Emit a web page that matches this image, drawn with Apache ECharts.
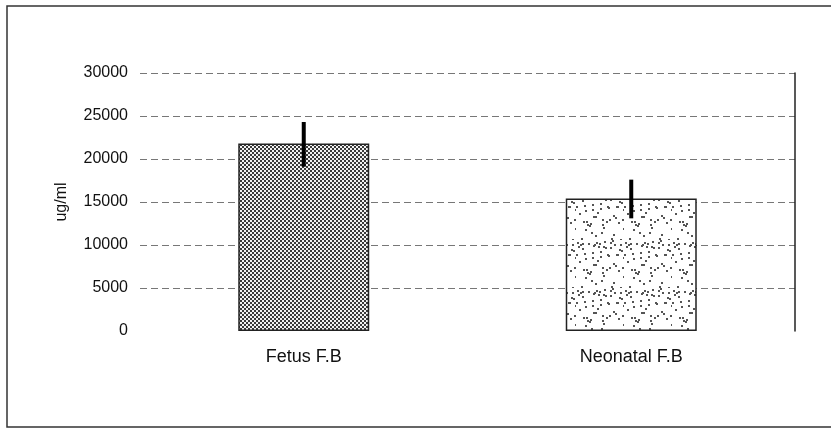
<!DOCTYPE html>
<html><head><meta charset="utf-8">
<script src="https://cdn.jsdelivr.net/npm/echarts@6/dist/echarts.min.js"></script>
<style>html,body{margin:0;padding:0;background:#fff}#c{width:831px;height:429px}</style>
</head><body><div id="c"></div>
<script>
const categories = ['Fetus F.B', 'Neonatal F.B'];
const means = [21800, 15400];
const errLow = [19100, 13100];
const errHigh = [24300, 17600];
const yTicks = [0, 5000, 10000, 15000, 20000, 25000, 30000];

function checker() {
  const c = document.createElement('canvas'); c.width = 4; c.height = 4;
  const g = c.getContext('2d');
  g.fillStyle = '#f2f2f2'; g.fillRect(0, 0, 4, 4);
  g.fillStyle = '#3a3a3a'; g.fillRect(0, 0, 2, 2); g.fillRect(2, 2, 2, 2);
  return c;
}
function speckle() {
  const c = document.createElement('canvas'); c.width = 48; c.height = 48;
  const g = c.getContext('2d');
  g.fillStyle = '#ffffff'; g.fillRect(0, 0, 48, 48);
  g.fillStyle = '#555';
  let s = 7;
  for (let i = 0; i < 60; i++) {
    s = (s * 73 + 41) % 2304;
    const x = s % 48, y = Math.floor(s / 48);
    g.fillRect(x, y, 2, 2);
  }
  return c;
}

const chart = echarts.init(document.getElementById('c'), null, {renderer: 'canvas'});
chart.setOption({
  animation: false,
  backgroundColor: '#fff',
  graphic: [{type: 'rect', shape: {x: 7, y: 6, width: 830, height: 421}, style: {fill: 'none', stroke: '#333', lineWidth: 1.5}, silent: true}],
  grid: {left: 140, right: 36, top: 73, bottom: 98},
  xAxis: {
    type: 'category', data: categories,
    axisLine: {show: false}, axisTick: {show: false},
    axisLabel: {color: '#111', fontSize: 18, fontFamily: 'Liberation Sans', margin: 17}
  },
  yAxis: [{
    type: 'value', min: 0, max: 30000, interval: 5000,
    name: 'ug/ml', nameLocation: 'middle', nameGap: 70,
    nameTextStyle: {color: '#111', fontSize: 16, fontFamily: 'Liberation Sans'},
    axisLine: {show: false}, axisTick: {show: false},
    axisLabel: {color: '#111', fontSize: 16, fontFamily: 'Liberation Sans', margin: 12,
      formatter: v => yTicks.indexOf(v) >= 0 ? String(v) : ''},
    splitLine: {showMinLine: false, lineStyle: {color: '#777', type: [7, 4], width: 1}}
  }, {
    type: 'value', min: 0, max: 30000, interval: 5000, position: 'right',
    axisLine: {show: true, lineStyle: {color: '#222', width: 1.5}},
    axisTick: {show: false}, axisLabel: {show: false}, splitLine: {show: false}
  }],
  series: [{
    type: 'bar', barWidth: '40%',
    data: means.map((v, i) => ({
      value: v,
      itemStyle: {color: {image: i === 0 ? checker() : speckle(), repeat: 'repeat'}, borderColor: '#222', borderWidth: 1.5}
    }))
  }, {
    type: 'custom',
    data: categories.map((c, i) => [i, errLow[i], errHigh[i]]),
    renderItem: function (params, api) {
      const lo = api.coord([api.value(0), api.value(1)]);
      const hi = api.coord([api.value(0), api.value(2)]);
      return {type: 'line', shape: {x1: lo[0], y1: lo[1], x2: hi[0], y2: hi[1]},
        style: {stroke: '#000', lineWidth: 4}};
    },
    z: 5
  }]
});
</script></body></html>
